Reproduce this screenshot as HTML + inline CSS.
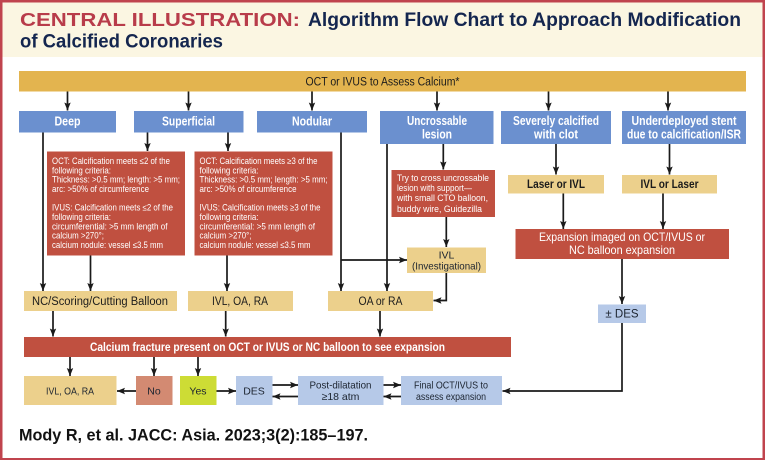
<!DOCTYPE html>
<html><head><meta charset="utf-8"><style>
html,body{margin:0;padding:0;background:#fff;width:765px;height:460px;overflow:hidden}
svg{display:block}
text{font-family:"Liberation Sans",sans-serif}
.h{font-weight:bold;fill:#fff;font-size:12.5px;text-anchor:middle}
.y{fill:#1c1c1c;font-size:12px;text-anchor:middle;font-weight:bold}
.s{fill:#fff;font-size:8.8px}
.c{fill:#1c2430;font-size:10.5px;text-anchor:middle}
.w{fill:#fff;font-size:12px;text-anchor:middle}
line,path.l{stroke:#1a1a1a;stroke-width:1.7;fill:none}
</style></head><body>
<svg width="765" height="460" viewBox="0 0 765 460" xmlns="http://www.w3.org/2000/svg">
<defs><marker id="a" markerUnits="userSpaceOnUse" markerWidth="9" markerHeight="9" refX="8" refY="4" orient="auto"><path d="M0 0.8L8 4L0 7.2L1.5 4Z" fill="#1a1a1a"/></marker></defs>
<rect width="765" height="460" fill="#c0444e"/>
<rect x="2.5" y="2.5" width="760" height="455.5" fill="#fff"/>
<rect x="2.5" y="2.5" width="760" height="54.5" fill="#fbf6e2"/>
<text x="20" y="26" font-size="18.5" font-weight="bold" fill="#b83c4a" textLength="280" lengthAdjust="spacingAndGlyphs">CENTRAL ILLUSTRATION:</text>
<text x="308" y="26" font-size="19" font-weight="bold" fill="#14264f" textLength="433" lengthAdjust="spacingAndGlyphs">Algorithm Flow Chart to Approach Modification</text>
<text x="20" y="47.5" font-size="19" font-weight="bold" fill="#14264f" textLength="203" lengthAdjust="spacingAndGlyphs">of Calcified Coronaries</text>

<rect x="19" y="71" width="727" height="20.5" fill="#e3b44f"/>
<text x="382.5" y="85.5" font-size="11.5" fill="#1c1c1c" text-anchor="middle" textLength="154" lengthAdjust="spacingAndGlyphs">OCT or IVUS to Assess Calcium*</text>

<g fill="#6b90cf">
<rect x="19" y="111" width="97" height="21.5"/>
<rect x="134" y="111" width="109.5" height="21.5"/>
<rect x="257" y="111" width="110" height="21.5"/>
<rect x="380" y="111" width="113.5" height="33"/>
<rect x="501" y="111" width="110" height="33"/>
<rect x="622" y="111" width="124" height="33"/>
</g>
<text class="h" x="67.5" y="125.5" textLength="26" lengthAdjust="spacingAndGlyphs">Deep</text>
<text class="h" x="188.5" y="125.5" textLength="53" lengthAdjust="spacingAndGlyphs">Superficial</text>
<text class="h" x="312" y="125.5" textLength="40" lengthAdjust="spacingAndGlyphs">Nodular</text>
<text class="h" x="437" y="125" textLength="60" lengthAdjust="spacingAndGlyphs">Uncrossable</text>
<text class="h" x="437" y="138.5" textLength="30" lengthAdjust="spacingAndGlyphs">lesion</text>
<text class="h" x="556" y="125" textLength="86" lengthAdjust="spacingAndGlyphs">Severely calcified</text>
<text class="h" x="556" y="138.5" textLength="44" lengthAdjust="spacingAndGlyphs">with clot</text>
<text class="h" x="684" y="125" textLength="105" lengthAdjust="spacingAndGlyphs">Underdeployed stent</text>
<text class="h" x="684" y="138.5" textLength="114" lengthAdjust="spacingAndGlyphs">due to calcification/ISR</text>

<g fill="#c05040">
<rect x="47" y="151.5" width="138" height="104"/>
<rect x="194.5" y="151.5" width="138" height="104"/>
<rect x="391.5" y="170" width="103.5" height="47"/>
<rect x="515.5" y="229" width="213.5" height="30"/>
<rect x="24" y="337" width="487" height="20"/>
</g>
<text class="s" x="52" y="164" textLength="118" lengthAdjust="spacingAndGlyphs">OCT: Calcification meets ≤2 of the</text>
<text class="s" x="52" y="173.3" textLength="59" lengthAdjust="spacingAndGlyphs">following criteria:</text>
<text class="s" x="52" y="182.6" textLength="128" lengthAdjust="spacingAndGlyphs">Thickness: &gt;0.5 mm; length: &gt;5 mm;</text>
<text class="s" x="52" y="192" textLength="97" lengthAdjust="spacingAndGlyphs">arc: &gt;50% of circumference</text>
<text class="s" x="52" y="210.7" textLength="121" lengthAdjust="spacingAndGlyphs">IVUS: Calcification meets ≤2 of the</text>
<text class="s" x="52" y="220" textLength="59" lengthAdjust="spacingAndGlyphs">following criteria:</text>
<text class="s" x="52" y="229.3" textLength="115.5" lengthAdjust="spacingAndGlyphs">circumferential: &gt;5 mm length of</text>
<text class="s" x="52" y="238.7" textLength="52" lengthAdjust="spacingAndGlyphs">calcium &gt;270°;</text>
<text class="s" x="52" y="248" textLength="111" lengthAdjust="spacingAndGlyphs">calcium nodule: vessel ≤3.5 mm</text>
<text class="s" x="199.5" y="164" textLength="118" lengthAdjust="spacingAndGlyphs">OCT: Calcification meets ≥3 of the</text>
<text class="s" x="199.5" y="173.3" textLength="59" lengthAdjust="spacingAndGlyphs">following criteria:</text>
<text class="s" x="199.5" y="182.6" textLength="128" lengthAdjust="spacingAndGlyphs">Thickness: &gt;0.5 mm; length: &gt;5 mm;</text>
<text class="s" x="199.5" y="192" textLength="97" lengthAdjust="spacingAndGlyphs">arc: &gt;50% of circumference</text>
<text class="s" x="199.5" y="210.7" textLength="121" lengthAdjust="spacingAndGlyphs">IVUS: Calcification meets ≥3 of the</text>
<text class="s" x="199.5" y="220" textLength="59" lengthAdjust="spacingAndGlyphs">following criteria:</text>
<text class="s" x="199.5" y="229.3" textLength="115.5" lengthAdjust="spacingAndGlyphs">circumferential: &gt;5 mm length of</text>
<text class="s" x="199.5" y="238.7" textLength="52" lengthAdjust="spacingAndGlyphs">calcium &gt;270°;</text>
<text class="s" x="199.5" y="248" textLength="111" lengthAdjust="spacingAndGlyphs">calcium nodule: vessel ≤3.5 mm</text>
<text class="s" x="397" y="181" textLength="92" lengthAdjust="spacingAndGlyphs">Try to cross uncrossable</text>
<text class="s" x="397" y="191" textLength="75" lengthAdjust="spacingAndGlyphs">lesion with support—</text>
<text class="s" x="397" y="201" textLength="91" lengthAdjust="spacingAndGlyphs">with small CTO balloon,</text>
<text class="s" x="397" y="212" textLength="85" lengthAdjust="spacingAndGlyphs">buddy wire, Guidezilla</text>
<text class="w" x="622" y="241" textLength="166" lengthAdjust="spacingAndGlyphs">Expansion imaged on OCT/IVUS or</text>
<text class="w" x="622" y="254" textLength="106" lengthAdjust="spacingAndGlyphs">NC balloon expansion</text>
<text x="267.5" y="351" font-size="12" font-weight="bold" fill="#fff" text-anchor="middle" textLength="355" lengthAdjust="spacingAndGlyphs">Calcium fracture present on OCT or IVUS or NC balloon to see expansion</text>

<g fill="#ecd08c">
<rect x="508" y="175" width="96" height="18.5"/>
<rect x="622" y="175" width="95" height="18.5"/>
<rect x="407" y="247.5" width="79" height="25.5"/>
<rect x="24" y="291" width="153" height="20"/>
<rect x="188" y="291" width="105" height="20"/>
<rect x="328" y="291" width="105" height="20"/>
<rect x="24" y="376" width="92.5" height="29"/>
</g>
<text class="y" x="556" y="188" textLength="58" lengthAdjust="spacingAndGlyphs">Laser or IVL</text>
<text class="y" x="669.5" y="188" textLength="58" lengthAdjust="spacingAndGlyphs">IVL or Laser</text>
<text class="c" x="446.5" y="258.5">IVL</text>
<text class="c" x="446.5" y="269.5" textLength="69" lengthAdjust="spacingAndGlyphs">(Investigational)</text>
<text x="100" y="305" font-size="11.5" fill="#1c1c1c" text-anchor="middle" textLength="136" lengthAdjust="spacingAndGlyphs">NC/Scoring/Cutting Balloon</text>
<text x="240" y="305" font-size="11.5" fill="#1c1c1c" text-anchor="middle" textLength="56" lengthAdjust="spacingAndGlyphs">IVL, OA, RA</text>
<text x="380.5" y="305" font-size="11.5" fill="#1c1c1c" text-anchor="middle" textLength="44" lengthAdjust="spacingAndGlyphs">OA or RA</text>
<text class="c" x="70" y="394.5" textLength="48" lengthAdjust="spacingAndGlyphs">IVL, OA, RA</text>

<rect x="136" y="376" width="36.5" height="29" fill="#d38a72"/>
<rect x="180" y="376" width="36.5" height="29" fill="#cddc35"/>
<g fill="#b6c9e8">
<rect x="236" y="376" width="36.5" height="29"/>
<rect x="298" y="376" width="85.5" height="29"/>
<rect x="401" y="376" width="101" height="29"/>
<rect x="598" y="304.5" width="48" height="18.5"/>
</g>
<text class="c" x="154" y="394.5">No</text>
<text class="c" x="198" y="394.5">Yes</text>
<text class="c" x="254" y="394.5">DES</text>
<text class="c" x="340.5" y="388.5" textLength="62" lengthAdjust="spacingAndGlyphs">Post-dilatation</text>
<text class="c" x="340.5" y="400">≥18 atm</text>
<text class="c" x="451" y="388.5" textLength="74" lengthAdjust="spacingAndGlyphs">Final OCT/IVUS to</text>
<text class="c" x="451" y="400" textLength="70" lengthAdjust="spacingAndGlyphs">assess expansion</text>
<text x="622" y="317.5" font-size="11.5" fill="#1c2430" text-anchor="middle">± DES</text>

<line x1="67.5" y1="91.5" x2="67.5" y2="110.5" marker-end="url(#a)"/>
<line x1="188.5" y1="91.5" x2="188.5" y2="110.5" marker-end="url(#a)"/>
<line x1="312" y1="91.5" x2="312" y2="110.5" marker-end="url(#a)"/>
<line x1="437" y1="91.5" x2="437" y2="110.5" marker-end="url(#a)"/>
<line x1="548.5" y1="91.5" x2="548.5" y2="110.5" marker-end="url(#a)"/>
<line x1="668" y1="91.5" x2="668" y2="110.5" marker-end="url(#a)"/>
<line x1="43" y1="132.5" x2="43" y2="291" marker-end="url(#a)"/>
<line x1="147.5" y1="132.5" x2="147.5" y2="151" marker-end="url(#a)"/>
<line x1="228" y1="132.5" x2="228" y2="151" marker-end="url(#a)"/>
<line x1="341" y1="132.5" x2="341" y2="291" marker-end="url(#a)"/>
<line x1="341" y1="260" x2="407" y2="260" marker-end="url(#a)"/>
<line x1="387" y1="144" x2="387" y2="291" marker-end="url(#a)"/>
<line x1="443.3" y1="144" x2="443.3" y2="169.5" marker-end="url(#a)"/>
<line x1="446.3" y1="217" x2="446.3" y2="247" marker-end="url(#a)"/>
<path class="l" d="M446.3 273V300.5H433.5" marker-end="url(#a)"/>
<line x1="556" y1="144" x2="556" y2="174.5" marker-end="url(#a)"/>
<line x1="669.5" y1="144" x2="669.5" y2="174.5" marker-end="url(#a)"/>
<line x1="563.3" y1="193.5" x2="563.3" y2="229" marker-end="url(#a)"/>
<line x1="663" y1="193.5" x2="663" y2="229" marker-end="url(#a)"/>
<line x1="622" y1="259" x2="622" y2="304" marker-end="url(#a)"/>
<path class="l" d="M622 323V391H502.5" marker-end="url(#a)"/>
<line x1="90.5" y1="255.5" x2="90.5" y2="291" marker-end="url(#a)"/>
<line x1="227" y1="255.5" x2="227" y2="291" marker-end="url(#a)"/>
<line x1="53" y1="311" x2="53" y2="336.5" marker-end="url(#a)"/>
<line x1="225.7" y1="311" x2="225.7" y2="336.5" marker-end="url(#a)"/>
<line x1="380" y1="311" x2="380" y2="336.5" marker-end="url(#a)"/>
<line x1="70" y1="357" x2="70" y2="376" marker-end="url(#a)"/>
<line x1="154" y1="357" x2="154" y2="376" marker-end="url(#a)"/>
<line x1="198" y1="357" x2="198" y2="376" marker-end="url(#a)"/>
<line x1="136" y1="391" x2="117" y2="391" marker-end="url(#a)"/>
<line x1="216.5" y1="391" x2="236" y2="391" marker-end="url(#a)"/>
<line x1="272.5" y1="385" x2="298" y2="385" marker-end="url(#a)"/>
<line x1="298" y1="396.5" x2="272.5" y2="396.5" marker-end="url(#a)"/>
<line x1="383.5" y1="385" x2="401" y2="385" marker-end="url(#a)"/>
<line x1="401" y1="396.5" x2="383.5" y2="396.5" marker-end="url(#a)"/>
<text x="19" y="440.5" font-size="17" font-weight="bold" fill="#111" textLength="349" lengthAdjust="spacingAndGlyphs">Mody R, et al. JACC: Asia. 2023;3(2):185–197.</text>
</svg>
</body></html>
